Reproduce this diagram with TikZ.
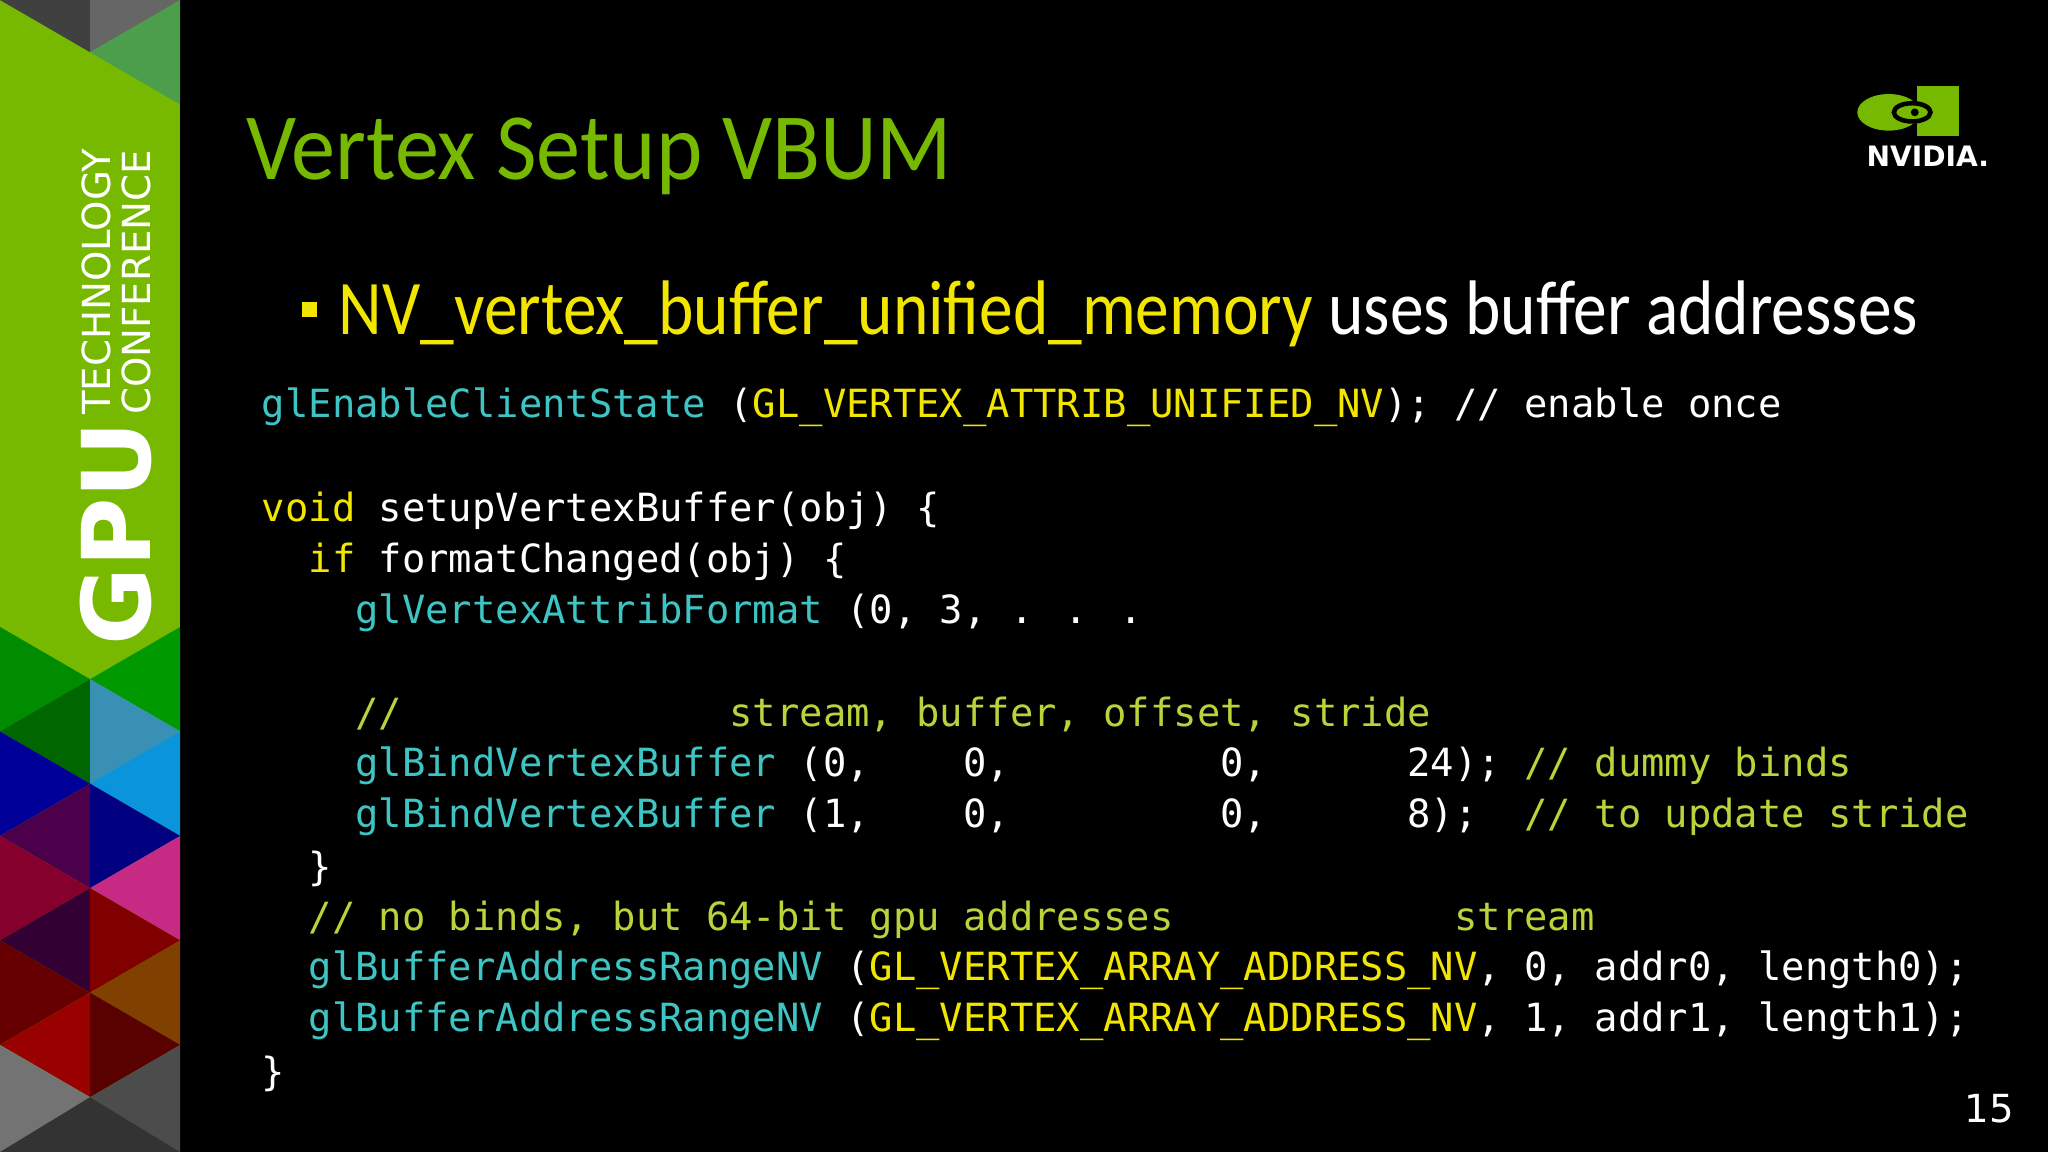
\documentclass[tikz,border=0pt]{standalone}
\usepackage{fontspec}
\usepackage{graphicx}
\setmainfont{Carlito}
\newfontfamily\codefont{DejaVu Sans Mono}
\definecolor{nvgreen}{HTML}{76B900}
\definecolor{cfun}{HTML}{3FC4C4}
\definecolor{ckey}{HTML}{F2E600}
\definecolor{ccom}{HTML}{B8D43A}
\begin{document}
\begin{tikzpicture}[x=0.013061cm,y=-0.013061cm,
  code/.style={anchor=west,inner sep=0,text=white,font=\codefont\fontsize{11.05}{13}\selectfont}]
\fill[black] (0,0) rectangle (1568,882);
\useasboundingbox (0,0) rectangle (1568,882);
% left band
\fill[nvgreen] (0,0) rectangle (138,882);
\fill[black!75] (0,0) -- (69,0) -- (69,40) -- cycle;
\fill[black!60] (69,0) -- (138,0) -- (69,40) -- cycle;
\fill[green!45!black!70] (138,0) -- (138,80) -- (69,40) -- cycle;
\fill[green!55!black] (0,480) -- (69,520) -- (0,560) -- cycle;
\fill[green!40!black] (69,520) -- (0,560) -- (69,600) -- cycle;
\fill[green!60!black] (69,520) -- (138,480) -- (138,560) -- cycle;
\fill[cyan!70!black] (69,520) -- (138,560) -- (69,600) -- cycle;
\fill[cyan!80!blue] (138,560) -- (69,600) -- (138,640) -- cycle;
\fill[blue!60!black] (0,560) -- (69,600) -- (0,640) -- cycle;
\fill[violet!60!black] (69,600) -- (0,640) -- (69,680) -- cycle;
\fill[blue!50!black] (69,600) -- (138,640) -- (69,680) -- cycle;
\fill[magenta!80!black] (138,640) -- (69,680) -- (138,720) -- cycle;
\fill[purple!70!black] (0,640) -- (69,680) -- (0,720) -- cycle;
\fill[violet!40!black] (69,680) -- (0,720) -- (69,760) -- cycle;
\fill[red!50!black] (69,680) -- (138,720) -- (69,760) -- cycle;
\fill[orange!50!black] (138,720) -- (69,760) -- (138,800) -- cycle;
\fill[red!40!black] (0,720) -- (69,760) -- (0,800) -- cycle;
\fill[red!60!black] (69,760) -- (0,800) -- (69,840) -- cycle;
\fill[red!35!black] (69,760) -- (138,800) -- (69,840) -- cycle;
\fill[black!70] (138,800) -- (69,840) -- (138,882) -- cycle;
\fill[black!55] (0,800) -- (69,840) -- (0,882) -- cycle;
\fill[black!80] (69,840) -- (0,882) -- (138,882) -- cycle;
\node[rotate=90,anchor=west,inner sep=0,text=white,font=\fontspec{DejaVu Sans}\bfseries\fontsize{27}{27}\selectfont] (gpu) at (89,495) {GPU};
\node[rotate=90,anchor=west,inner sep=0,text=white,font=\fontspec{DejaVu Sans}\fontsize{11}{11.5}\selectfont,align=left] (tc) at (89,318) {TECHNOLOGY\\CONFERENCE};
% title
\node[anchor=west,inner sep=0,text=nvgreen,font=\fontsize{27}{30}\selectfont] (title) at (188,120) {\scalebox{0.93}[1]{Vertex Setup VBUM}};
% logo
\fill[nvgreen] (1468,66) rectangle (1500,104) ;
\fill[nvgreen] (1446,86) ellipse (24 and 14);
\draw[black,line width=1.3pt] (1464,86) ellipse (14 and 7);
\fill[black] (1466,86) circle (3);
\node[anchor=center,inner sep=0,text=white,font=\fontspec{DejaVu Sans}\bfseries\fontsize{8}{8}\selectfont] (nv) at (1476,120) {NVIDIA.};
% bullet
\fill[ckey] (231,231) rectangle (243,243);
\node[anchor=west,inner sep=0,font=\fontsize{22}{24}\selectfont] (bul) at (259,240) {\scalebox{0.872}[1]{\textcolor{ckey}{NV\_vertex\_buffer\_unified\_memory} \textcolor{white}{uses buffer addresses}}};
% code
\begin{scope}[yshift=-3*0.013061cm]
\node[code] (l1) at (200,309) {\textcolor{cfun}{glEnableClientState} (\textcolor{ckey}{GL\_VERTEX\_ATTRIB\_UNIFIED\_NV}); // enable once};
\node[code] (l2) at (200,388) {\textcolor{ckey}{void} setupVertexBuffer(obj) \{};
\node[code] (l3) at (200,427) {\textcolor{ckey}{\ \ if} formatChanged(obj) \{};
\node[code] (l4) at (200,466) {\textcolor{cfun}{\ \ \ \ glVertexAttribFormat} (0, 3, . . .};
\node[code] (l5) at (200,544) {\obeyspaces\textcolor{ccom}{\ \ \ \ //              stream, buffer, offset, stride}};
\node[code] (l6) at (200,583) {\obeyspaces\textcolor{cfun}{\ \ \ \ glBindVertexBuffer} (0,    0,         0,      24); \textcolor{ccom}{// dummy binds}};
\node[code] (l7) at (200,622) {\obeyspaces\textcolor{cfun}{\ \ \ \ glBindVertexBuffer} (1,    0,         0,      8);  \textcolor{ccom}{// to update stride}};
\node[code] (l8) at (200,662) {\ \ \}};
\node[code] (l9) at (200,701) {\obeyspaces\textcolor{ccom}{\ \ // no binds, but 64-bit gpu addresses            stream}};
\node[code] (l10) at (200,740) {\textcolor{cfun}{\ \ glBufferAddressRangeNV} (\textcolor{ckey}{GL\_VERTEX\_ARRAY\_ADDRESS\_NV}, 0, addr0, length0);};
\node[code] (l11) at (200,779) {\textcolor{cfun}{\ \ glBufferAddressRangeNV} (\textcolor{ckey}{GL\_VERTEX\_ARRAY\_ADDRESS\_NV}, 1, addr1, length1);};
\node[code] (l12) at (200,819) {\}};
\end{scope}
\node[anchor=center,inner sep=0,text=white,font=\fontspec{DejaVu Sans}\fontsize{11}{12}\selectfont] (pg) at (1523,849) {15};
\end{tikzpicture}
\end{document}
